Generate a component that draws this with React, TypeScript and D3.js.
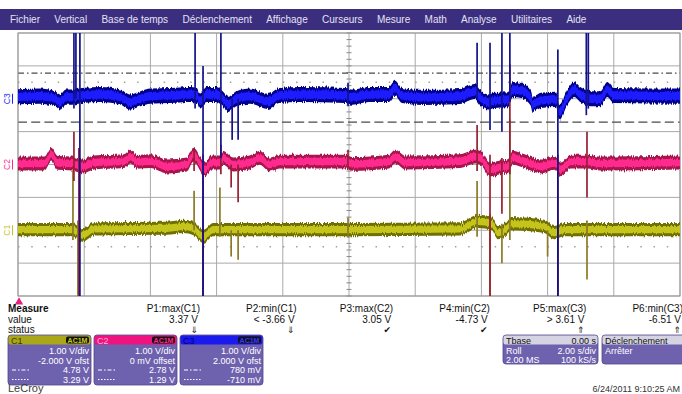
import React, { useRef, useEffect } from "react";
import * as d3 from "d3";

const menuItems = ["Fichier", "Vertical", "Base de temps", "Déclenchement", "Affichage", "Curseurs", "Mesure", "Math", "Analyse", "Utilitaires", "Aide"];

// channel set-up
const channelNames = ["C1", "C2", "C3"];
const channelOffsets = [-2, 0, 2]; // V (1 V/div)
const voltsPerDiv = ["1.00 V/div", "1.00 V/div", "1.00 V/div"];
const offsetLabels = ["-2.000 V ofst", "0 mV offset", "2.000 V ofst"];
const cursorHighV = [4.78, 2.78, 0.78];
const cursorLowV = [3.29, 1.29, -0.71];
const cursorHighLabels = ["4.78 V", "2.78 V", "780 mV"];
const cursorLowLabels = ["3.29 V", "1.29 V", "-710 mV"];

// trace level (time s, volts)
const c1Trace: [number, number][] = [
  [0, 0.02], [1.63, 0.02], [1.95, -0.15], [2.3, 0.04], [4.5, 0.06], [5.0, 0.12], [5.3, 0.05],
  [5.6, -0.19], [5.9, 0.02], [6.5, 0.02], [9.9, 0.02], [13.35, 0.04], [13.9, 0.27], [14.3, 0.22],
  [14.5, -0.07], [14.7, 0.0], [14.9, 0.2], [15.9, 0.12], [16.2, -0.07], [16.5, 0.02], [20, 0.02],
];
const c2Trace: [number, number][] = [
  [0, 0.03], [0.8, 0.03], [1.0, 0.3], [1.2, 0.05], [1.63, 0.03], [1.95, -0.06], [2.3, 0.06],
  [3.2, 0.1], [3.4, 0.24], [3.6, 0.08], [4.0, 0.1], [4.5, -0.06], [5.1, 0.0], [5.3, 0.3],
  [5.65, -0.15], [5.85, 0.06], [6.1, 0.06], [6.2, 0.2], [6.5, 0.0], [7.0, 0.06], [7.3, 0.2],
  [7.6, 0.0], [7.9, 0.09], [9.9, 0.09], [10.1, 0.02], [11.2, 0.09], [11.4, 0.24], [11.7, 0.06],
  [13.35, 0.1], [13.8, 0.24], [14.0, 0.18], [14.25, -0.15], [14.5, -0.1], [14.8, -0.05],
  [14.95, 0.2], [15.3, 0.1], [15.8, -0.06], [16.2, 0.05], [16.4, -0.15], [16.7, 0.09],
  [17.2, 0.09], [17.6, 0.03], [20, 0.06],
];
const c3Trace: [number, number][] = [
  [0, 0.06], [0.66, 0.08], [1.12, 0.0], [1.27, -0.1], [1.45, 0.05], [1.63, 0.05], [1.93, 0.1],
  [2.5, 0.13], [3.1, 0.05], [3.38, -0.1], [3.7, 0.0], [4.0, 0.08], [4.6, 0.1], [5.2, 0.13],
  [5.4, 0.1], [5.5, -0.07], [5.7, 0.13], [6.0, 0.13], [6.2, -0.02], [6.35, -0.17], [6.6, 0.0],
  [7.01, 0.08], [7.55, -0.08], [7.9, 0.1], [8.5, 0.13], [9.9, 0.1], [10.1, 0.05], [10.6, 0.13],
  [11.2, 0.13], [11.39, 0.32], [11.6, 0.1], [12.2, 0.04], [13.35, 0.07], [13.8, 0.22],
  [13.95, 0.05], [14.2, -0.1], [14.4, -0.05], [14.8, -0.03], [14.95, 0.28], [15.2, 0.25],
  [15.5, 0.0], [15.55, -0.17], [15.8, -0.05], [16.25, -0.02], [16.35, -0.42], [16.6, 0.05],
  [16.8, 0.28], [17.0, 0.12], [17.3, 0.0], [17.6, 0.0], [17.8, 0.28], [18.0, 0.1], [20, 0.08],
];

// glitches: [time s, max V, min V]
const c1Spikes: [number, number, number][] = [
  [1.66, 1.8, -0.3], [1.81, 0.3, -3.66], [5.32, 1.2, 0.0], [5.59, 0.0, -3.66], [6.1, 1.3, -0.2],
  [6.44, 0.0, -0.8], [6.65, 0.0, -0.9], [9.97, 0.39, -0.22], [13.87, 1.5, -0.2], [14.26, 0.5, -3.66],
  [14.62, 0.2, -1.0], [14.86, 3.37, -0.3], [16.0, 0.0, -0.8], [16.31, 0.3, -3.66], [17.19, 0.3, -1.5],
];
const c2Spikes: [number, number, number][] = [
  [1.69, 1.0, -0.5], [1.84, 0.5, -4.73], [5.32, 0.5, -0.2], [5.59, 0.3, -4.73], [6.13, 0.6, -0.3],
  [6.44, 0.0, -0.7], [6.65, 0.0, -1.15], [9.97, 0.45, -0.15], [13.87, 1.2, -0.2], [14.26, 0.3, -4.73],
  [14.62, 0.2, -1.5], [14.86, 3.05, -0.3], [16.31, 0.3, -4.73], [17.19, 1.0, -1.0],
];
const c3Spikes: [number, number, number][] = [
  [1.69, 3.61, -0.3], [1.75, 3.61, 0.0], [1.87, 3.61, -6.51], [5.35, 3.61, -0.3], [5.59, 1.0, -6.51],
  [6.13, 3.61, -1.8], [6.47, 0.0, -1.25], [6.65, 0.0, -1.25], [9.97, 0.49, -0.23], [13.87, 1.7, 0.0],
  [14.26, 1.7, -0.95], [14.62, 3.61, -1.0], [14.86, 3.61, -0.1], [16.31, 1.5, -6.51],
  [17.17, 3.61, -0.5], [17.23, 3.61, -0.3],
];

const measureNames = ["P1:max(C1)", "P2:min(C1)", "P3:max(C2)", "P4:min(C2)", "P5:max(C3)", "P6:min(C3)"];
const measureValues = ["3.37 V", "< -3.66 V", "3.05 V", "-4.73 V", "> 3.61 V", "-6.51 V"];
const measureStatus = ["⇓", "⇓", "✔", "✔", "⇑", "⇑"];

const styles = [
  { core: "#c4c41a", edge: "#6f6f00", spike: "#8a7a26", head: "#aaa718", headText: "#3a3a00", badge: "#c8c81c", half: 0.2 },
  { core: "#ff2a8e", edge: "#a5124c", spike: "#962032", head: "#f0127e", headText: "#ffb0d8", badge: "#ff2a8e", half: 0.21 },
  { core: "#1e1eff", edge: "#00008a", spike: "#12128c", head: "#1a1aee", headText: "#000070", badge: "#3a3aff", half: 0.23 },
];

const W = 682;
const H = 394;
const FONT = "'Liberation Sans', Arial, sans-serif";

const Scope = () => {
  const ref = useRef<SVGSVGElement>(null);

  useEffect(() => {
    const svg = d3.select(ref.current);
    svg.selectAll("*").remove();

    const x = d3.scaleLinear().domain([0, 20]).range([18, 680]);
    const y = d3.scaleLinear().domain([-4, 4]).range([296, 33]);

    // fuzz filter for the noisy trace edges
    const defs = svg.append("defs");
    const f = defs.append("filter").attr("id", "fuzz")
      .attr("x", "-2%").attr("y", "-40%").attr("width", "104%").attr("height", "180%");
    f.append("feTurbulence").attr("type", "fractalNoise").attr("baseFrequency", "0.9 0.03")
      .attr("numOctaves", 2).attr("seed", 3).attr("result", "noise");
    f.append("feColorMatrix").attr("in", "noise").attr("type", "matrix")
      .attr("values", "0 0 0 0 0.5  0 1 0 0 0  0 0 0 0 0  0 0 0 0 1").attr("result", "n2");
    f.append("feDisplacementMap").attr("in", "SourceGraphic").attr("in2", "n2")
      .attr("scale", 5).attr("xChannelSelector", "R").attr("yChannelSelector", "G");

    svg.append("rect").attr("width", W).attr("height", H).attr("fill", "#fff");

    // menu bar
    svg.append("rect").attr("x", 0).attr("y", 9).attr("width", W).attr("height", 21).attr("fill", "#3b2e7e");
    let mx = 10;
    menuItems.forEach((m) => {
      const t = svg.append("text")
        .attr("x", mx).attr("y", 23)
        .attr("font-family", FONT).attr("font-size", 10)
        .attr("fill", "#e4e2f4")
        .text(m);
      mx += (t.node() as SVGTextElement).getComputedTextLength() + 14.3;
    });

    // grid
    const grid = svg.append("g");
    grid.selectAll("line.v")
      .data(d3.range(0, 21, 2))
      .enter().append("line")
      .attr("x1", (d) => x(d)).attr("x2", (d) => x(d))
      .attr("y1", y(4)).attr("y2", y(-4))
      .attr("stroke", "#a9a9a9").attr("stroke-width", 1);
    grid.selectAll("line.h")
      .data(d3.range(-4, 5, 1))
      .enter().append("line")
      .attr("x1", x(0)).attr("x2", x(20))
      .attr("y1", (d) => y(d)).attr("y2", (d) => y(d))
      .attr("stroke", "#a9a9a9").attr("stroke-width", 1);
    // minor ticks on center line
    grid.selectAll("line.tk")
      .data(d3.range(-4, 4.01, 0.2))
      .enter().append("line")
      .attr("x1", x(10) - 2.5).attr("x2", x(10) + 2.5)
      .attr("y1", (d) => y(d)).attr("y2", (d) => y(d))
      .attr("stroke", "#8a8a8a").attr("stroke-width", 1);
    // dotted rows
    [2.5, -2.5].forEach((lv) => {
      grid.append("line")
        .attr("x1", x(0)).attr("x2", x(20))
        .attr("y1", y(lv)).attr("y2", y(lv))
        .attr("stroke", "#a0a0a0").attr("stroke-width", 1.5)
        .attr("stroke-dasharray", "1.5 11.74");
    });

    // cursors (from C1 settings)
    grid.append("line")
      .attr("x1", x(0)).attr("x2", x(20))
      .attr("y1", y(cursorHighV[0] + channelOffsets[0])).attr("y2", y(cursorHighV[0] + channelOffsets[0]))
      .attr("stroke", "#4a4a4a").attr("stroke-width", 1.2)
      .attr("stroke-dasharray", "6 3 1.5 3");
    grid.append("line")
      .attr("x1", x(0)).attr("x2", x(20))
      .attr("y1", y(cursorLowV[0] + channelOffsets[0])).attr("y2", y(cursorLowV[0] + channelOffsets[0]))
      .attr("stroke", "#4a4a4a").attr("stroke-width", 1.2)
      .attr("stroke-dasharray", "9 4.2");

    svg.append("rect")
      .attr("x", x(0)).attr("y", y(4)).attr("width", x(20) - x(0)).attr("height", y(-4) - y(4))
      .attr("fill", "none").attr("stroke", "#999").attr("stroke-width", 1);

    svg.append("clipPath").attr("id", "plotclip")
      .append("rect")
      .attr("x", x(0)).attr("y", y(4)).attr("width", x(20) - x(0)).attr("height", y(-4) - y(4));

    const plot = svg.append("g").attr("clip-path", "url(#plotclip)");
    const traces = [c1Trace, c2Trace, c3Trace];
    const spikes = [c1Spikes, c2Spikes, c3Spikes];

    traces.forEach((tr, i) => {
      const off = channelOffsets[i];
      const st = styles[i];
      const band = (h: number) => d3.area<[number, number]>()
        .x((d) => x(d[0]))
        .y0((d) => y(d[1] - h + off))
        .y1((d) => y(d[1] + h + off))
        .curve(d3.curveMonotoneX);
      const g = plot.append("g").attr("filter", "url(#fuzz)");
      g.append("path").datum(tr).attr("d", band(st.half)).attr("fill", st.edge);
      g.append("path").datum(tr).attr("d", band(st.half * 0.55)).attr("fill", st.core);
    });

    spikes.forEach((sp, i) => {
      const off = channelOffsets[i];
      plot.selectAll(null)
        .data(sp)
        .enter().append("line")
        .attr("x1", (d) => x(d[0])).attr("x2", (d) => x(d[0]))
        .attr("y1", (d) => y(d[1] + off)).attr("y2", (d) => y(d[2] + off))
        .attr("stroke", styles[i].spike).attr("stroke-width", 1.7);
    });

    // channel tags at left
    channelNames.forEach((n, i) => {
      const g = svg.append("g").attr("transform", `translate(10, ${y(channelOffsets[i])}) rotate(-90)`);
      g.append("text").attr("text-anchor", "middle").attr("y", 0)
        .attr("font-family", FONT).attr("font-size", 8.5).attr("fill", styles[i].core).text(n);
      g.append("line").attr("x1", -5).attr("x2", 5).attr("y1", 2.5).attr("y2", 2.5)
        .attr("stroke", styles[i].core).attr("stroke-width", 1);
    });

    // trigger marker
    svg.append("path")
      .attr("d", d3.symbol(d3.symbolTriangle, 30)())
      .attr("transform", `translate(${x(0) + 1}, 302)`)
      .attr("fill", "#e8207c");

    // measure table
    const txt = (sx: number, sy: number, s: string, opts: any = {}) =>
      svg.append("text").attr("x", sx).attr("y", sy)
        .attr("font-family", opts.family || FONT).attr("font-size", opts.size || 10)
        .attr("font-weight", opts.weight || "normal")
        .attr("text-anchor", opts.anchor || "start")
        .attr("fill", opts.fill || "#111").text(s);

    txt(8, 312, "Measure", { weight: "bold" });
    txt(8, 323, "value");
    txt(8, 333, "status");
    measureNames.forEach((m, i) => {
      const r = 200 + i * 96.6;
      txt(r, 312, m, { anchor: "end" });
      txt(r - 2, 323, measureValues[i], { anchor: "end" });
      txt(r - 6, 333, measureStatus[i], { anchor: "middle", size: 9, family: "'DejaVu Sans', sans-serif" });
    });

    // channel boxes
    channelNames.forEach((n, i) => {
      const bx = 8 + i * 86;
      const bw = 83;
      const st = styles[i];
      svg.append("rect").attr("x", bx).attr("y", 335).attr("width", bw).attr("height", 50)
        .attr("rx", 3).attr("fill", "#6e62ae").attr("stroke", "#50468a").attr("stroke-width", 0.8);
      svg.append("rect").attr("x", bx + 0.5).attr("y", 335.5).attr("width", bw - 1).attr("height", 9)
        .attr("rx", 2).attr("fill", st.head);
      txt(bx + 3, 343.5, n, { size: 9, fill: st.headText });
      svg.append("rect").attr("x", bx + bw - 25).attr("y", 336.5).attr("width", 23).attr("height", 7)
        .attr("rx", 2).attr("fill", "#111");
      txt(bx + bw - 13.5, 342.8, "AC1M", { size: 7, anchor: "middle", fill: st.badge, weight: "bold" });
      const rx = bx + bw - 2;
      txt(rx, 354, voltsPerDiv[i], { size: 9, anchor: "end", fill: "#fff" });
      txt(rx, 363.5, offsetLabels[i], { size: 9, anchor: "end", fill: "#fff" });
      txt(rx, 373, cursorHighLabels[i], { size: 9, anchor: "end", fill: "#fff" });
      txt(rx, 382.5, cursorLowLabels[i], { size: 9, anchor: "end", fill: "#fff" });
      svg.append("line").attr("x1", bx + 4).attr("x2", bx + 22).attr("y1", 370).attr("y2", 370)
        .attr("stroke", "#fff").attr("stroke-dasharray", "4 2 1.5 2");
      svg.append("line").attr("x1", bx + 4).attr("x2", bx + 22).attr("y1", 379.5).attr("y2", 379.5)
        .attr("stroke", "#fff").attr("stroke-dasharray", "1.5 1.5");
    });

    // timebase box
    svg.append("rect").attr("x", 503).attr("y", 335).attr("width", 95).attr("height", 29)
      .attr("rx", 3).attr("fill", "#6e62ae").attr("stroke", "#50468a").attr("stroke-width", 0.8);
    svg.append("rect").attr("x", 503.5).attr("y", 335.5).attr("width", 94).attr("height", 9)
      .attr("rx", 2).attr("fill", "#d6d4e2");
    txt(506, 343.5, "Tbase", { size: 9 });
    txt(596, 343.5, "0.00 s", { size: 9, anchor: "end" });
    txt(506, 353.5, "Roll", { size: 9, fill: "#fff" });
    txt(596, 353.5, "2.00 s/div", { size: 9, anchor: "end", fill: "#fff" });
    txt(506, 362.5, "2.00 MS", { size: 9, fill: "#fff" });
    txt(596, 362.5, "100 kS/s", { size: 9, anchor: "end", fill: "#fff" });

    // trigger box
    svg.append("rect").attr("x", 602).attr("y", 335).attr("width", 84).attr("height", 29)
      .attr("rx", 3).attr("fill", "#6e62ae").attr("stroke", "#50468a").attr("stroke-width", 0.8);
    svg.append("rect").attr("x", 602.5).attr("y", 335.5).attr("width", 83).attr("height", 9)
      .attr("rx", 2).attr("fill", "#d6d4e2");
    txt(605, 343.5, "Déclenchement", { size: 9 });
    txt(605, 353.5, "Arrêter", { size: 9, fill: "#fff" });

    txt(8, 391.5, "LeCroy", { size: 11, fill: "#3c3c3c" });
    txt(680, 391.5, "6/24/2011 9:10:25 AM", { size: 9, anchor: "end", fill: "#333" });
  }, []);

  return <svg ref={ref} width={W} height={H} style={{ position: "absolute", left: 0, top: 0 }} />;
};

export default function App() {
  return <Scope />;
}
